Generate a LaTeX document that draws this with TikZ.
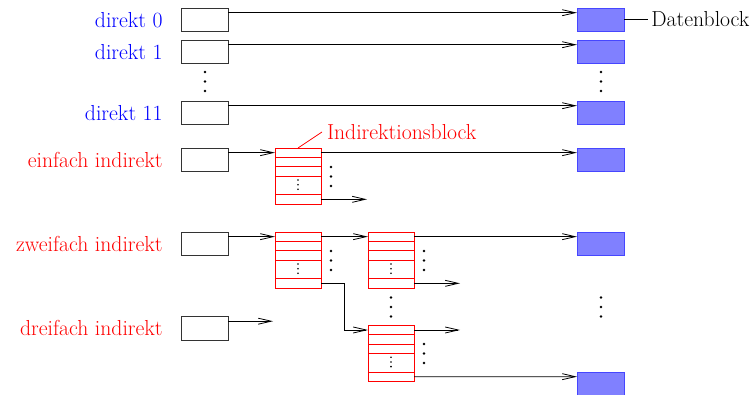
\documentclass[tikz,border=0pt]{standalone}
\usetikzlibrary{positioning,arrows.meta}

\begin{document}
\begin{tikzpicture}[x=1pt,y=-1pt,
    every node/.style={font=\fontsize{21.7}{26}\selectfont, outer sep=0pt},
    fld/.style={draw=black!80, line width=0.8pt, minimum width=47pt, minimum height=23.5pt, inner sep=0pt, anchor=north west},
    dat/.style={draw={rgb,255:red,70;green,70;blue,255}, fill={rgb,255:red,128;green,128;blue,255}, line width=0.8pt,
                minimum width=47pt, minimum height=23pt, inner sep=0pt, anchor=north west},
    iblk/.style={draw=red, line width=0.8pt, minimum width=46pt, minimum height=56pt, inner sep=0pt, anchor=north west},
    ptr/.style={line width=0.8pt, -{Straight Barb[length=13pt,width=6pt]}},
    dir/.style={text=blue},
    ind/.style={text=red}]
    \useasboundingbox (0,0) rectangle (756,395);
    % Adressfelder im Inode
    \node[fld] (d0)  at (181,8)   {};
    \node[fld] (d1)  at (181,40)  {};
    \node[fld] (d11) at (181,101) {};
    \node[fld] (ei)  at (181,148) {};
    \node[fld] (zw)  at (181,232) {};
    \node[fld] (dr)  at (181,316.5) {};
    \foreach \n/\t in {d0/direkt 0, d1/direkt 1, d11/direkt 11}
        \node[dir, left=15pt of \n] (l-\n) {\t};
    \foreach \n/\t in {ei/einfach indirekt, zw/zweifach indirekt, dr/dreifach indirekt}
        \node[ind, left=15pt of \n] (l-\n) {\t};
    % Datenbloecke
    \node[dat] (b0)  at (577,8)   {};
    \node[dat] (b1)  at (577,40)  {};
    \node[dat] (b11) at (577,101) {};
    \node[dat] (be)  at (577,148) {};
    \node[dat] (bz)  at (577,232) {};
    \node[dat] (bd)  at (577,372) {};
    \node[anchor=west] (l-dat) at ([xshift=24pt]b0.east) {Datenblock};
    \draw[line width=0.8pt] (b0.east) -- (l-dat.west);
    % Indirektionsbloecke
    \foreach \n/\bx/\by in {e/275/148, za/275/232, zb/368/232, zc/368/325.33} {
        \node[iblk] (\n) at (\bx,\by) {};
        \foreach \k in {1,2,3,5}
            \draw[red, line width=0.8pt] (\n.north west) ++(0,\k*9.33) -- ++(46,0);
        \foreach \k in {32,36.7,41.3}
            \fill ([yshift=-\k pt]\n.north) circle (0.9pt);
    }
    \node[ind, anchor=west, inner sep=5pt] (l-ind) at ([shift={(24,-16)}]e.north) {Indirektionsblock};
    \draw[red, line width=0.8pt] (e.north) -- (l-ind.west);
    % Zeiger
    \foreach \a/\b in {d0/b0, d1/b1, d11/b11}
        \draw[ptr] ([yshift=-4.7pt]\a.north east) -- ([yshift=-4.7pt]\b.north west);
    \draw[ptr] ([yshift=-4.67pt]ei.north east) -- ([yshift=-4.67pt]e.north west);
    \draw[ptr] ([yshift=-4.67pt]e.north east) -- ([yshift=-4.67pt]be.north west);
    \draw[ptr] ([yshift=4.67pt]e.south east) -- ++(46,0);
    \draw[ptr] ([yshift=-4.67pt]zw.north east) -- ([yshift=-4.67pt]za.north west);
    \draw[ptr] ([yshift=-4.67pt]za.north east) -- ([yshift=-4.67pt]zb.north west);
    \draw[ptr] ([yshift=-4.67pt]zb.north east) -- ([yshift=-4.67pt]bz.north west);
    \draw[ptr] ([yshift=4.67pt]zb.south east) -- ++(46,0);
    \draw[ptr] ([yshift=4.67pt]za.south east) -- ++(23,0) |- ([yshift=-4.67pt]zc.north west);
    \draw[ptr] ([yshift=-4.67pt]zc.north east) -- ++(46,0);
    \draw[ptr] ([yshift=4.67pt]zc.south east) -- ([yshift=-4.67pt]bd.north west);
    \draw[ptr] ([yshift=-4.7pt]dr.north east) -- ++(45,0);
    % Punkte
    \foreach \bx/\by in {205/72, 601/72, 331/167, 331/251, 424/251, 391/297.5, 424/344, 601/297.5}
        \foreach \k in {0,1,2}
            \fill (\bx,\by+\k*9.5) circle (1.4pt);
\end{tikzpicture}
\end{document}
